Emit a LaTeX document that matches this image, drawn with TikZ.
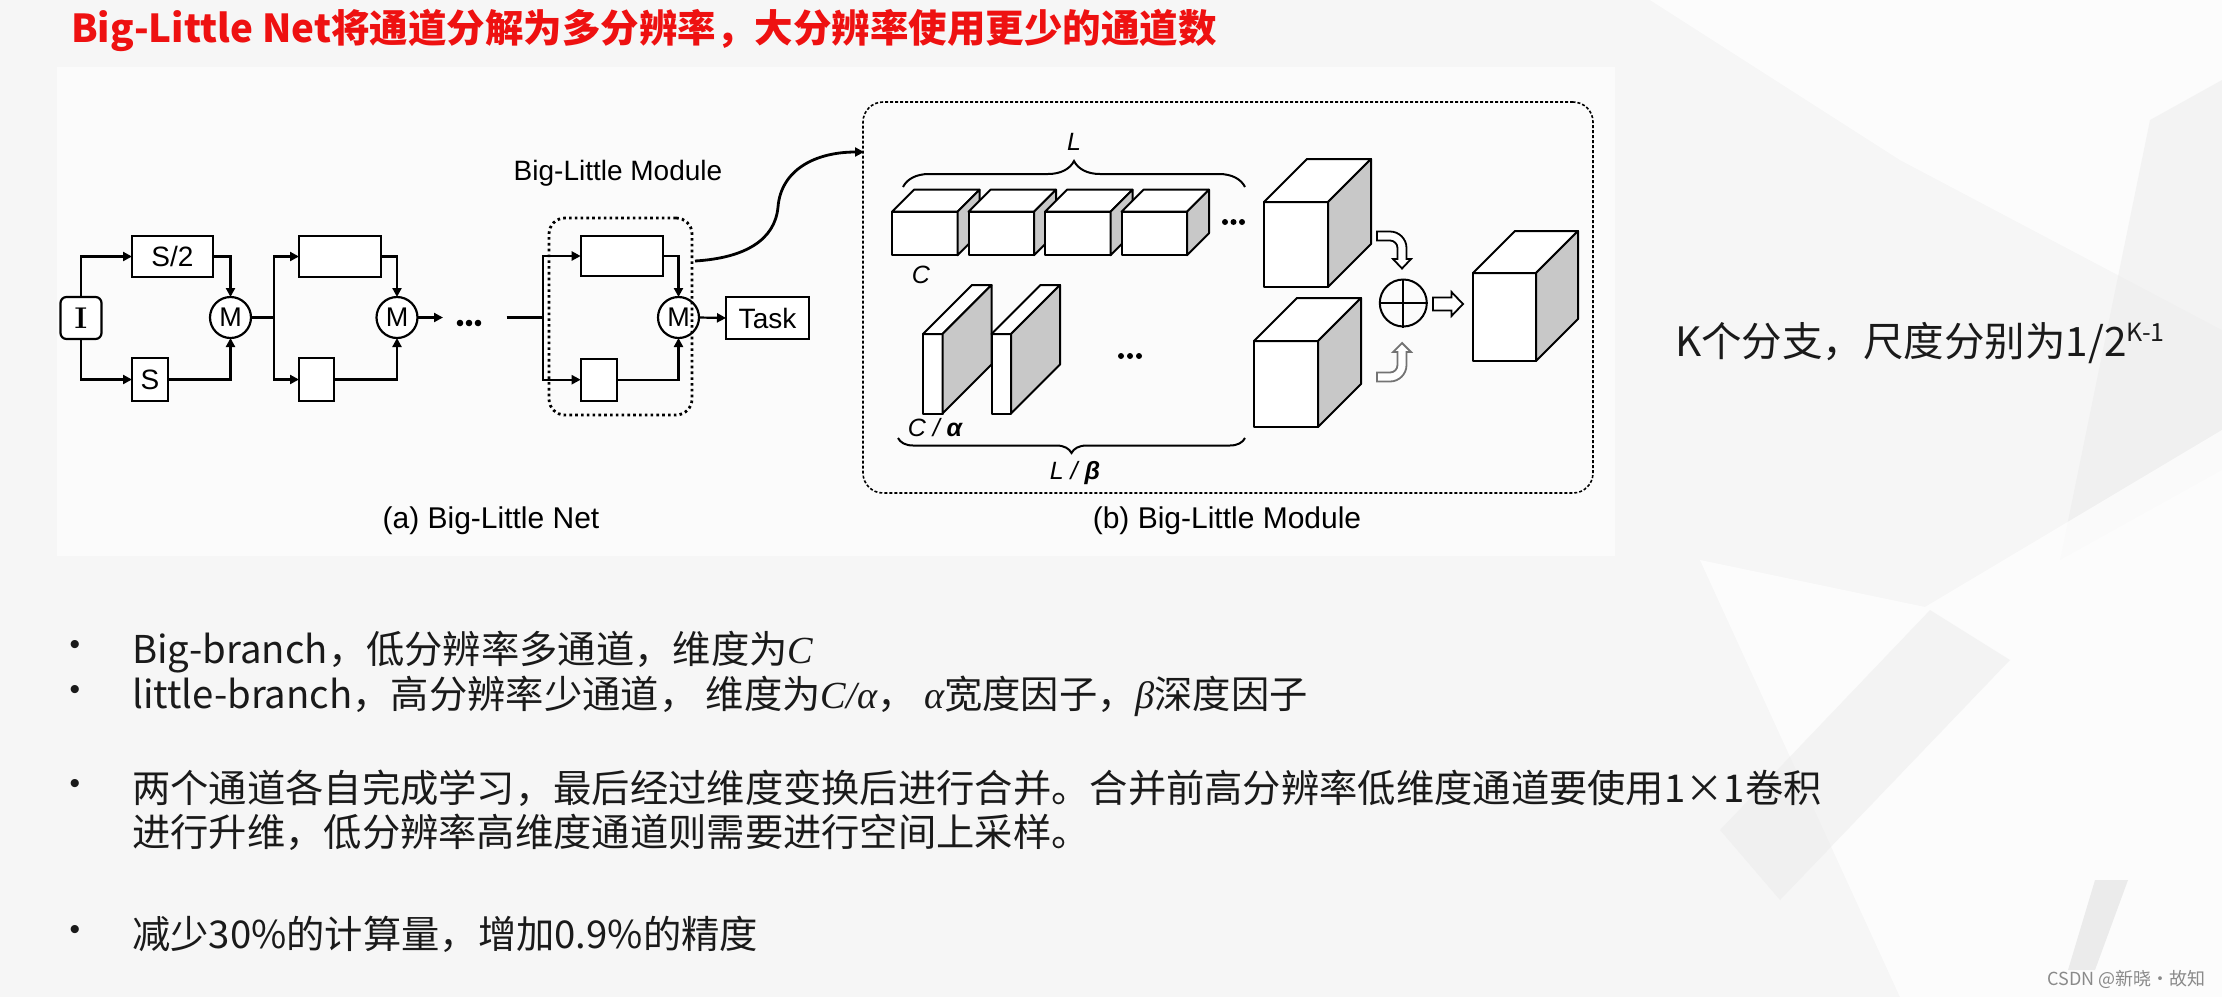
\documentclass[tikz,border=0pt]{standalone}
\usepackage{fontspec}
\setsansfont{Liberation Sans}
\newfontfamily\cjk{Noto Sans CJK SC}
\newfontfamily\serifit{Liberation Serif}
\usetikzlibrary{arrows.meta,decorations.pathreplacing,calc}
\definecolor{slidebg}{HTML}{F6F6F6}
\definecolor{figbg}{HTML}{FBFBFB}
\definecolor{bgshade}{HTML}{EBEBEB}
\definecolor{sidegray}{HTML}{C8C8C8}
\definecolor{titlered}{HTML}{EE1111}
\definecolor{wmgray}{HTML}{8A8A8A}
\definecolor{bodytext}{HTML}{1A1A1A}
\newcommand{\drawcube}[5]{%
  \draw[cubeln,fill=white] (#1,#2) rectangle ++(#3,#4);
  \draw[cubeln,fill=white] (#1,#2) -- ++(#5,-#5) -- ++(#3,0) -- ++(-#5,#5) -- cycle;
  \draw[cubeln,fill=sidegray] (#1+#3,#2) -- ++(#5,-#5) -- ++(0,#4) -- ++(-#5,#5) -- cycle;
}
\begin{document}
\begin{tikzpicture}[x=1pt,y=-1pt,
  ln/.style={line width=2.2pt,draw=black},
  arr/.style={-{Triangle[length=9pt,width=9pt]}},
  sbox/.style={draw=black,line width=2.2pt,fill=white,inner sep=0pt,outer sep=0pt,font=\sffamily\fontsize{28}{32}\selectfont},
  mcirc/.style={draw=black,line width=2.2pt,circle,fill=white,minimum size=41pt,inner sep=0pt,outer sep=0pt,font=\sffamily\fontsize{27}{32}\selectfont},
  cubeln/.style={line width=2pt,draw=black,line join=round},
  lab/.style={font=\sffamily\fontsize{28}{32}\selectfont,inner sep=0pt},
  capt/.style={font=\sffamily\fontsize{30}{34}\selectfont,inner sep=0pt},
  dimlab/.style={font=\sffamily\itshape\fontsize{25}{28}\selectfont,inner sep=0pt},
  bul/.style={anchor=base west,inner sep=0pt,font=\cjk\fontsize{38.3}{44}\selectfont,text=bodytext},
  dotmark/.style={inner sep=0pt,font=\sffamily\fontsize{30}{30}\selectfont,text=bodytext},
  hollow/.style={line width=1.8pt,draw=black,fill=white,line join=miter}
]
% ---------- background ----------
\fill[slidebg] (0,0) rectangle (2222,997);
\useasboundingbox (0,0) rectangle (2222,997);
\fill[white,opacity=0.7] (1650,0) -- (2222,0) -- (2222,330) -- (1900,160) -- cycle;
\fill[bgshade,opacity=0.5] (2150,120) -- (2222,80) -- (2222,470) -- (2060,560) -- cycle;
\fill[white,opacity=0.7] (1700,560) -- (1925,607) -- (2222,430) -- (2222,997) -- (1900,997) -- cycle;
\fill[bgshade,opacity=0.5] (1930,610) -- (2010,660) -- (1780,900) -- (1720,830) -- cycle;
\fill[bgshade] (2095,880) -- (2128,880) -- (2095,970) -- (2068,970) -- cycle;
\fill[figbg] (57,67) rectangle (1615,556);

% ---------- title ----------
\node[anchor=base west,inner sep=0pt,font=\cjk\bfseries\fontsize{38.5}{44}\selectfont,text=titlered] (title) at (71,42)
  {Big-Little Net将通道分解为多分辨率，大分辨率使用更少的通道数};

% ---------- (a) Big-Little Net ----------
\node[sbox,rounded corners=6pt,minimum width=41pt,minimum height=42pt,font=\rmfamily\bfseries\fontsize{30}{32}\selectfont] (I) at (81,318) {I};
\node[sbox,minimum width=81pt,minimum height=41pt] (S2) at (172.5,256.5) {S/2};
\node[sbox,minimum width=36pt,minimum height=43pt] (S1) at (150,379.5) {S};
\node[mcirc] (M1) at (230.5,317.5) {M};
\coordinate (J1) at (274,317.5);
\node[sbox,minimum width=82pt,minimum height=41pt] (T2) at (340,256.5) {};
\node[sbox,minimum width=35pt,minimum height=43pt] (B2) at (316.5,379.5) {};
\node[mcirc] (M2) at (397,317.5) {M};
\coordinate (M2out) at (443,317.5);
\coordinate (L3in) at (506.7,317.5);
\coordinate (J3) at (543.3,317.5);
\node[sbox,minimum width=82.6pt,minimum height=40pt] (T3) at (622,256) {};
\node[sbox,minimum width=36pt,minimum height=42pt] (B3) at (598.7,379.7) {};
\node[mcirc] (M3) at (678.5,317.5) {M};
\node[sbox,minimum width=83pt,minimum height=42pt] (Task) at (767.5,318) {Task};

\draw[ln,arr] (I.north) |- (S2.west);
\draw[ln,arr] (I.south) |- (S1.west);
\draw[ln,arr] (S2.east) -| (M1.north);
\draw[ln,arr] (S1.east) -| (M1.south);
\draw[ln,line width=3pt] (M1.east) -- (J1);
\draw[ln,arr] (J1) |- (T2.west);
\draw[ln,arr] (J1) |- (B2.west);
\draw[ln,arr] (T2.east) -| (M2.north);
\draw[ln,arr] (B2.east) -| (M2.south);
\draw[ln,arr] (M2.east) -- (M2out);
\fill (460,323) circle[radius=3.3pt] (469,323) circle[radius=3.3pt] (478,323) circle[radius=3.3pt];
\draw[ln] (L3in) -- (J3);
\draw[ln,arr] (J3) |- (T3.west);
\draw[ln,arr] (J3) |- (B3.west);
\draw[ln,arr] (T3.east) -| (M3.north);
\draw[ln,arr] (B3.east) -| (M3.south);
\draw[ln,arr] (M3.east) -- (Task.west);

\node[draw=black,line width=2.8pt,dash pattern=on 2.6pt off 3.2pt,rounded corners=16pt,
      minimum width=143pt,minimum height=197pt,inner sep=0pt] (modA) at (620.5,316.5) {};
\node[lab] (modAlab) at (618,173) {Big-Little Module};
\node[capt] (capA) at (491,521) {(a) Big-Little Net};

% ---------- (b) Big-Little Module ----------
\node[draw=black,line width=1.6pt,dash pattern=on 3pt off 2pt,rounded corners=20pt,
      minimum width=730pt,minimum height=391pt,inner sep=0pt] (modB) at (1228,297.5) {};
\coordinate (cs) at (695,261);
\coordinate (ce) at (864,152);
\draw[ln,line width=2.8pt,arr] (cs) .. controls (745,258) and (775,240) .. (778,207)
   .. controls (781,170) and (815,152) .. (ce);

% top row cubes
\drawcube{892}{211.7}{65.5}{43.5}{22}
\drawcube{968.5}{211.7}{65.5}{43.5}{22}
\drawcube{1045}{211.7}{65.5}{43.5}{22}
\drawcube{1121.5}{211.7}{65.5}{43.5}{22}
\fill (1225,222) circle[radius=3pt] (1233.5,222) circle[radius=3pt] (1242,222) circle[radius=3pt];
% bottom row slabs
\drawcube{923}{334}{19.5}{79.5}{49}
\drawcube{991.5}{334}{19.5}{79.5}{49}
\fill (1121,356) circle[radius=3pt] (1130,356) circle[radius=3pt] (1139,356) circle[radius=3pt];
% big cubes
\drawcube{1264}{202}{64}{85}{43}
\drawcube{1254}{341}{64}{86}{43}
\drawcube{1473}{273}{63}{88}{42}

% braces and labels
\draw[line width=2pt,decorate,decoration={brace,amplitude=26pt}] (903,187) -- (1245,187);
\draw[line width=2pt,decorate,decoration={brace,amplitude=15pt}] (1245,438) -- (898,438);
\node[dimlab] (Ltop) at (1074,142) {L};
\node[dimlab] (Clab) at (921,275) {C};
\node[dimlab] (Calab) at (935,428) {C / {\bfseries α}};
\node[dimlab] (Lblab) at (1075,473) {L / {\bfseries β}};

% plus
\node[draw=black,line width=2pt,circle,minimum size=47pt,inner sep=0pt] (plus) at (1403.3,303) {};
\draw[line width=2pt] (plus.north) -- (plus.south);
\draw[line width=2pt] (plus.west) -- (plus.east);

% hollow arrows
\draw[hollow] (1377,231.5) -- (1390,231.5) .. controls (1399.1,231.5) and (1406.5,238.9) .. (1406.5,248)
  -- (1406.5,259) -- (1411,259) -- (1402,268.5) -- (1393,259) -- (1397.5,259) -- (1397.5,248)
  .. controls (1397.5,243.9) and (1394.1,240.5) .. (1390,240.5) -- (1377,240.5) -- cycle;
\draw[hollow,draw=black!55] (1377,381.5) -- (1390,381.5) .. controls (1399.1,381.5) and (1406.5,374.1) .. (1406.5,365)
  -- (1406.5,352) -- (1411,352) -- (1402,343) -- (1393,352) -- (1397.5,352) -- (1397.5,365)
  .. controls (1397.5,369.1) and (1394.1,372.5) .. (1390,372.5) -- (1377,372.5) -- cycle;
\draw[hollow] (1433,297.5) -- (1451.5,297.5) -- (1451.5,292) -- (1463,304) -- (1451.5,316)
  -- (1451.5,310.5) -- (1433,310.5) -- cycle;

\node[capt] (capB) at (1227,521) {(b) Big-Little Module};

% ---------- right text ----------
\node[anchor=base west,inner sep=0pt,font=\cjk\fontsize{40.5}{44}\selectfont,text=bodytext] (ktext) at (1675,356)
  {K个分支，尺度分别为1/2\raisebox{0.36em}{\fontsize{25}{25}\selectfont K-1}};

% ---------- bullets ----------
\node[dotmark] (d1) at (75,647) {•};
\node[dotmark] (d2) at (75,692) {•};
\node[dotmark] (d3) at (75,786) {•};
\node[dotmark] (d4) at (75,932) {•};
\node[bul] (b1) at (132,663) {Big-branch，低分辨率多通道，维度为{\serifit\itshape C}};
\node[bul] (b2) at (132,708) {little-branch，高分辨率少通道， 维度为{\serifit\itshape C/α}， {\serifit\itshape α}宽度因子，{\serifit\itshape β}深度因子};
\node[bul] (b3) at (132,802) {两个通道各自完成学习，最后经过维度变换后进行合并。合并前高分辨率低维度通道要使用1×1卷积};
\node[bul] (b3b) at (132,846) {进行升维，低分辨率高维度通道则需要进行空间上采样。};
\node[bul] (b4) at (132,948) {减少30\%的计算量，增加0.9\%的精度};

% watermark
\node[anchor=base east,inner sep=0pt,font=\cjk\fontsize{18}{20}\selectfont,text=wmgray] (wm) at (2206,985) {CSDN @新晓·故知};
\end{tikzpicture}
\end{document}
